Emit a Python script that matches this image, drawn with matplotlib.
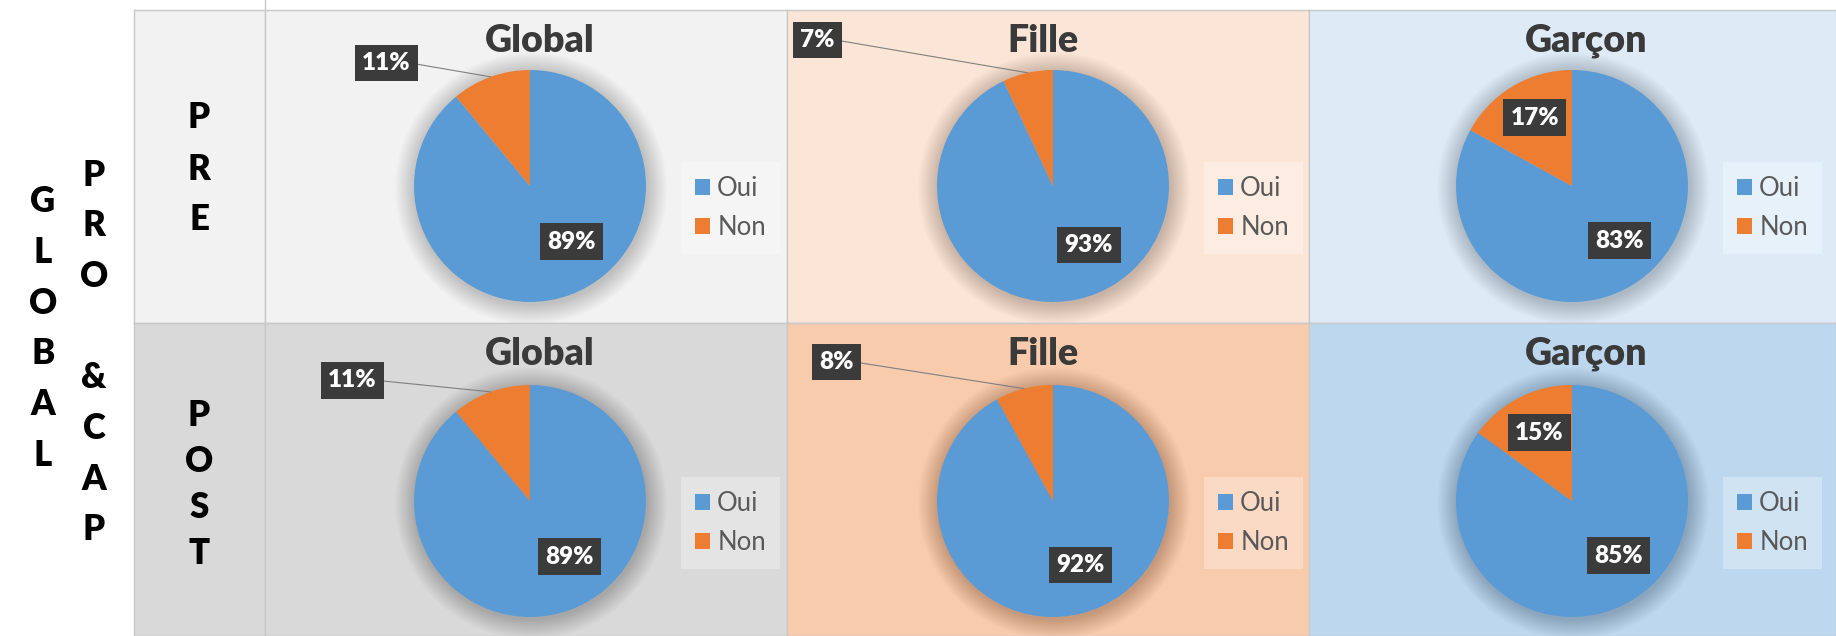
import numpy as np
import matplotlib
matplotlib.use("Agg")
from matplotlib import pyplot as plt
from matplotlib.patches import Circle
from matplotlib.lines import Line2D

plt.rcParams['font.family'] = ['Lato', 'DejaVu Sans']

# data
categories = ["Oui", "Non"]
groups = ["Global", "Fille", "Garçon"]
periods = ["PRE", "POST"]
oui_pre = [89, 93, 83]
non_pre = [11, 7, 17]
oui_post = [89, 92, 85]
non_post = [11, 8, 15]
side_title = "GLOBAL"
side_sub = ["P", "R", "O", "", "&", "C", "A", "P"]   # "PRO & CAP" stacked

oui = [oui_pre, oui_post]
non = [non_pre, non_post]

# layout (pixels of the 1836x636 picture)
W, H = 1836, 636
col_edges = [265, 787, 1309, 1836]
row_edges = [10, 323, 636]
lab_x0 = 134
R = 116
pie_cx = [530, 1053, 1572]
pie_cy = [186, 501]
title_dx = [10, -10, 14]

cell_bg = [["#F2F2F2", "#FBE5D6", "#DEEBF7"],
           ["#D9D9D9", "#F8CBAD", "#BDD7EE"]]
row_bg = ["#F2F2F2", "#D9D9D9"]
colors = ["#5B9BD5", "#ED7D31"]
box_col = "#3B3B3B"
line_col = "#C8C8C8"

# data label positions, in pie radii from the centre
oui_pos = [[(0.36, -0.48), (0.31, -0.51), (0.41, -0.47)],
           [(0.34, -0.48), (0.24, -0.55), (0.40, -0.47)]]
non_pos = [[(-1.24, 1.06), (-2.03, 1.26), (-0.32, 0.59)],
           [(-1.53, 1.04), (-1.87, 1.20), (-0.28, 0.59)]]

fig = plt.figure(figsize=(W / 100, H / 100), dpi=100)


def cell_axes(x0, x1, y0, y1, bg):
    ax = fig.add_axes([x0 / W, 1 - y1 / H, (x1 - x0) / W, (y1 - y0) / H])
    ax.set_facecolor(bg)
    ax.set_xticks([])
    ax.set_yticks([])
    for s in ax.spines.values():
        s.set_color(line_col)
        s.set_linewidth(1)
    return ax


def vertical_word(word, x, y_first, step):
    # one letter under the other, like the stacked cell text
    for k, ch in enumerate(word):
        if ch.strip():
            fig.text(x / W, 1 - (y_first + k * step) / H, ch, ha='center',
                     va='center', fontsize=25, fontweight='heavy')


# row label column
for i in range(2):
    ax = cell_axes(lab_x0, col_edges[0], row_edges[i], row_edges[i + 1], row_bg[i])

fig.add_artist(Line2D([col_edges[0] / W] * 2, [1, 1 - row_edges[0] / H],
                      color=line_col, lw=1))

for i in range(2):
    for j in range(3):
        x0, x1 = col_edges[j], col_edges[j + 1]
        y0, y1 = row_edges[i], row_edges[i + 1]
        cx, cy = pie_cx[j], pie_cy[i]
        ax = cell_axes(x0, x1, y0, y1, cell_bg[i][j])

        # soft shadow round the pie
        for k in range(1, 26):
            ax.add_patch(Circle((0.01, -0.02), 1 + 0.007 * k, color="black",
                                alpha=0.008, lw=0, zorder=1))

        wedges, _ = ax.pie([oui[i][j], non[i][j]], colors=colors, radius=1,
                           startangle=90, counterclock=False, frame=True,
                           wedgeprops=dict(linewidth=0, zorder=2))
        ax.set_xlim((x0 - cx) / R, (x1 - cx) / R)
        ax.set_ylim((cy - y1) / R, (cy - y0) / R)
        ax.set_aspect('auto')
        ax.set_xticks([])
        ax.set_yticks([])

        ax.text(title_dx[j] / R, (cy - (y0 + 31)) / R, groups[j], ha='center',
                va='center', fontsize=27, fontweight='heavy', color="#3A3A3A")

        lbl = dict(ha='center', va='center', fontsize=17.5, fontweight='heavy',
                   color='white', zorder=5)
        bb = dict(boxstyle='square,pad=0.3', fc=box_col, ec='none')
        ax.text(*oui_pos[i][j], f"{oui[i][j]}%", bbox=bb, **lbl)

        px, py = non_pos[i][j]
        if np.hypot(px, py) > 1:
            w = wedges[1]
            mid = np.deg2rad((w.theta1 + w.theta2) / 2)
            ax.annotate(f"{non[i][j]}%", xy=(np.cos(mid), np.sin(mid)),
                        xytext=(px, py), bbox=bb,
                        arrowprops=dict(arrowstyle='-', color='#7F7F7F', lw=0.8,
                                        relpos=(1, 0.5), shrinkA=0, shrinkB=0),
                        **lbl)
        else:
            ax.text(px, py, f"{non[i][j]}%", bbox=bb, **lbl)

        leg = ax.legend(wedges, categories, loc='center',
                        bbox_to_anchor=(1.73, -0.19),
                        bbox_transform=ax.transData, fontsize=18.5,
                        handlelength=0.55, handleheight=0.55, handletextpad=0.3,
                        labelspacing=0.55, borderpad=0.55, fancybox=False,
                        frameon=True, facecolor='white', framealpha=0.3,
                        edgecolor='none')
        for t in leg.get_texts():
            t.set_color("#595959")

# vertical side texts
vertical_word(side_title, 43, 202, 50.6)
vertical_word(side_sub, 94, 175, 50.7)
vertical_word(periods[0], 199, 118, 51)
vertical_word(periods[1], 199, 415, 46)

fig.savefig("out.png", dpi=100)
